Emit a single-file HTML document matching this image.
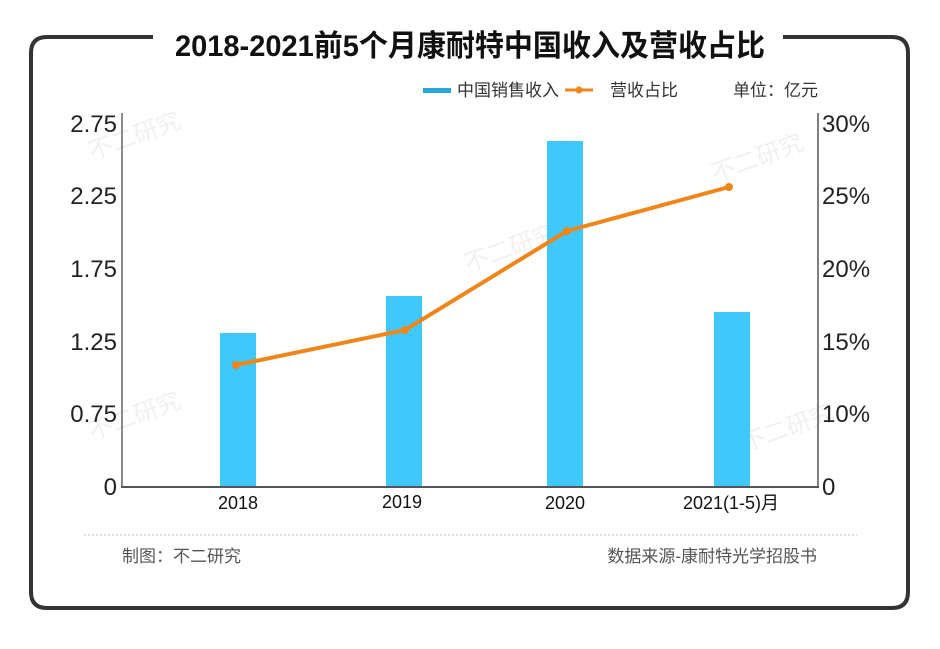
<!DOCTYPE html>
<html><head><meta charset="utf-8"><style>
html,body{margin:0;padding:0;background:#fff;}
body{width:940px;height:644px;overflow:hidden;}
svg text{font-family:"Liberation Sans","Noto Sans CJK SC",sans-serif;}
</style></head><body>
<svg width="940" height="644" viewBox="0 0 940 644" xmlns="http://www.w3.org/2000/svg">
<rect width="940" height="644" fill="#fff"/>
<!-- frame -->
<path d="M153 37 L47 37 Q31 37 31 53 L31 592 Q31 608 47 608 L892 608 Q908 608 908 592 L908 53 Q908 37 892 37 L783 37" fill="none" stroke="#333" stroke-width="4"/>
<!-- title -->
<text x="470" y="56" text-anchor="middle" font-size="30" font-weight="bold" fill="#111" textLength="590" lengthAdjust="spacingAndGlyphs">2018-2021前5个月康耐特中国收入及营收占比</text>
<!-- watermarks -->
<g fill="#f0f0f0" font-size="24">
<text x="92" y="160" transform="rotate(-20 92 160)">不二研究</text>
<text x="92" y="440" transform="rotate(-20 92 440)">不二研究</text>
<text x="468" y="272" transform="rotate(-20 468 272)">不二研究</text>
<text x="715" y="182" transform="rotate(-20 715 182)">不二研究</text>
<text x="745" y="452" transform="rotate(-20 745 452)">不二研究</text>
</g>
<!-- legend -->
<rect x="423" y="88" width="28" height="5" fill="#2aa8dc"/>
<text x="457" y="96" font-size="17" fill="#333">中国销售收入</text>
<line x1="565" y1="90" x2="593" y2="90" stroke="#f08519" stroke-width="3"/>
<circle cx="579" cy="90" r="3.5" fill="#f08519"/>
<text x="610" y="96" font-size="17" fill="#333">营收占比</text>
<text x="733" y="96" font-size="17" fill="#333">单位：亿元</text>
<!-- bars -->
<g fill="#3ec8fb">
<rect x="220" y="333" width="36" height="154"/>
<rect x="386" y="296" width="36" height="191"/>
<rect x="547" y="141" width="36" height="346"/>
<rect x="714" y="312" width="36" height="175"/>
</g>
<!-- axes -->
<line x1="122" y1="113" x2="122" y2="488" stroke="#666" stroke-width="1.5"/>
<line x1="818" y1="113" x2="818" y2="488" stroke="#555" stroke-width="1.5"/>
<line x1="121" y1="487" x2="819" y2="487" stroke="#555" stroke-width="2"/>
<!-- line series -->
<polyline points="236,365 405,330 567,231 729,187" fill="none" stroke="#f08519" stroke-width="4" stroke-linejoin="round"/>
<g fill="#f08519">
<circle cx="236" cy="365" r="4"/><circle cx="405" cy="330" r="4"/><circle cx="567" cy="231" r="4"/><circle cx="729" cy="187" r="4"/>
</g>
<!-- left ticks -->
<g font-size="24" fill="#222" text-anchor="end">
<text x="117" y="132">2.75</text>
<text x="117" y="204">2.25</text>
<text x="117" y="277">1.75</text>
<text x="117" y="350">1.25</text>
<text x="117" y="422">0.75</text>
<text x="117" y="495">0</text>
</g>
<!-- right ticks -->
<g font-size="24" fill="#222">
<text x="822" y="132">30%</text>
<text x="822" y="204">25%</text>
<text x="822" y="277">20%</text>
<text x="822" y="350">15%</text>
<text x="822" y="422">10%</text>
<text x="822" y="495">0</text>
</g>
<!-- x labels -->
<g font-size="18" fill="#111" text-anchor="middle">
<text x="238" y="509">2018</text>
<text x="402" y="508">2019</text>
<text x="565" y="509">2020</text>
<text x="731" y="509">2021(1-5)月</text>
</g>
<!-- separator -->
<line x1="84" y1="535" x2="857" y2="535" stroke="#bbb" stroke-width="1" stroke-dasharray="2,2"/>
<!-- footer -->
<text x="122" y="562" font-size="17" fill="#555">制图：不二研究</text>
<text x="817" y="562" font-size="17" fill="#555" text-anchor="end">数据来源-康耐特光学招股书</text>
</svg>
</body></html>
